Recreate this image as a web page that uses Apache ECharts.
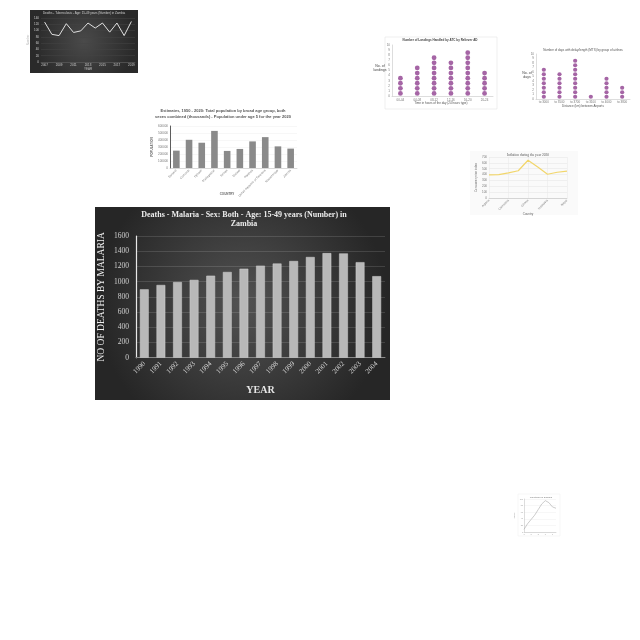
<!DOCTYPE html>
<html><head><meta charset="utf-8">
<script src="https://cdn.jsdelivr.net/npm/echarts@6/dist/echarts.min.js"></script>
<style>html,body{margin:0;padding:0;background:#fff}#c{width:640px;height:640px}</style>
</head><body><div id="c"></div>
<script>
// ---- main chart data ----
const years = ['1990','1991','1992','1993','1994','1995','1996','1997','1998','1999','2000','2001','2002','2003','2004'];
const deaths = [899, 956, 995, 1023, 1078, 1127, 1170, 1210, 1238, 1271, 1324, 1375, 1371, 1256, 1072];

// ---- thumbnail: dark line chart ----
const tlYears = ['2007','2008','2009','2010','2011','2012','2013','2014','2015','2016','2017','2018','2019'];
const tlVals = [127, 88, 84, 122, 94, 99, 124, 108, 124, 95, 124, 84, 129];

// ---- thumbnail: population bars ----
const popCountries = ['Burundi','Comoros','Djibouti','Madagascar','Eritrea','Malawi','Rwanda','United Republic of Tanzania','Mozambique','Zambia'];
const popVals = [248000, 403000, 361000, 530000, 244000, 272000, 380000, 441000, 309000, 277000];

// ---- thumbnail: landings dot plot ----
const landSlots = ['00-04','04-08','08-12','12-16','16-20','20-24'];
const landCounts = [4, 6, 8, 7, 9, 5];

// ---- thumbnail: delays dot plot ----
const delayGroups = ['to 3000','to 3500','to 3700','to 3100','to 4000','to 3800'];
const delayCounts = [7, 6, 9, 1, 5, 3];

// ---- thumbnail: inflation line ----
const inflCountries = ['Algeria','Bangladesh','Cambodia','Ethiopia','Ghana','India','Indonesia','Kenya','Nepal'];
const inflVals = [395, 400, 430, 465, 645, 530, 405, 440, 460];

// ---- thumbnail: tiny line ----
const tinyX = ['1','2','3','4','5','6','7','8','9','10'];
const tinyVals = [8, 25, 38, 51, 68, 85, 95, 89, 76, 72];

function dots(counts){const d=[];counts.forEach((n,i)=>{for(let k=0;k<n;k++)d.push([i,k+0.5]);});return d;}
const plain = v => String(v);

const serif = '"Liberation Serif","DejaVu Serif",serif';
const sans = '"Liberation Sans","DejaVu Sans",sans-serif';
const chart = echarts.init(document.getElementById('c'));

function tinyAxisX(grid, data, extra){
  return Object.assign({type:'category', gridIndex:grid, data:data,
    axisLine:{lineStyle:{color:'#bbb',width:0.5}}, axisTick:{show:false},
    axisLabel:{fontSize:3, color:'#777', margin:2, fontFamily:sans}}, extra||{});
}
function tinyAxisY(grid, extra){
  return Object.assign({type:'value', gridIndex:grid,
    axisLine:{show:true,lineStyle:{color:'#bbb',width:0.5}}, axisTick:{show:false},
    splitLine:{lineStyle:{color:'#eee',width:0.5}},
    axisLabel:{fontSize:3, color:'#777', margin:2, fontFamily:sans, formatter:plain}}, extra||{});
}

const option = {
  animation:false,
  backgroundColor:'#ffffff',
  graphic:[
    {type:'rect', z:-10, shape:{x:95,y:207,width:295,height:193},
     style:{fill:{type:'radial',x:0.5,y:0.5,r:0.75,colorStops:[{offset:0,color:'#525252'},{offset:1,color:'#262626'}]}}},
    {type:'text', z:100, style:{text:'Deaths - Malaria - Sex: Both - Age: 15-49 years (Number) in\nZambia', x:244, y:210,
      align:'center', verticalAlign:'top', fill:'#ececec', font:'bold 8px '+serif, lineHeight:9.5}},
    // dark line thumbnail
    {type:'rect', z:-10, shape:{x:30,y:10,width:108,height:63},
     style:{fill:{type:'radial',x:0.5,y:0.5,r:0.8,colorStops:[{offset:0,color:'#4a4a4a'},{offset:1,color:'#2a2a2a'}]}}},
    {type:'text', z:100, style:{text:'Deaths - Tuberculosis - Age: 15-49 years (Number) in Zambia', x:84, y:12,
      align:'center', verticalAlign:'top', fill:'#cfcfcf', font:'3px '+sans}},
    {type:'text', z:100, style:{text:'YEAR', x:88, y:69, align:'center', verticalAlign:'middle', fill:'#bbb', font:'3px '+sans}},
    // population thumbnail
    {type:'text', z:100, style:{text:'Estimates, 1950 - 2020: Total population by broad age group, both\nsexes combined (thousands) - Population under age 5 for the year 2020', x:223, y:108,
      align:'center', verticalAlign:'top', fill:'#555', font:'bold 4px '+sans, lineHeight:6}},
    {type:'text', z:100, style:{text:'COUNTRY', x:227, y:194, align:'center', verticalAlign:'middle', fill:'#666', font:'bold 3px '+sans}},
    // landings thumbnail
    {type:'rect', z:-10, shape:{x:385,y:37,width:112,height:72}, style:{fill:'#fff', stroke:'#e4e4e4', lineWidth:0.6}},
    {type:'text', z:100, style:{text:'Number of Landings Handled by ATC by Reliever AD', x:440, y:40,
      align:'center', verticalAlign:'middle', fill:'#444', font:'bold 3px '+sans}},
    {type:'text', z:100, style:{text:'No. of\nlandings', x:380, y:68, align:'center', verticalAlign:'middle', fill:'#444', font:'3.5px '+sans, lineHeight:4}},
    {type:'text', z:100, style:{text:'Time in hours of the day (24 hours type)', x:441, y:103, align:'center', verticalAlign:'middle', fill:'#555', font:'3px '+sans}},
    // delays thumbnail
    {type:'text', z:100, style:{text:'Number of days with delay/length (MTS) by group of airlines', x:583, y:50,
      align:'center', verticalAlign:'middle', fill:'#555', font:'3px '+sans}},
    {type:'text', z:100, style:{text:'No. of\ndays', x:527, y:75, align:'center', verticalAlign:'middle', fill:'#444', font:'3.5px '+sans, lineHeight:4}},
    {type:'text', z:100, style:{text:'Distance (km) between Airports', x:583, y:106, align:'center', verticalAlign:'middle', fill:'#555', font:'3px '+sans}},
    // inflation thumbnail
    {type:'rect', z:-10, shape:{x:470,y:151,width:108,height:64}, style:{fill:'#fafafa'}},
    {type:'text', z:100, style:{text:'Inflation during the year 2020', x:528, y:155,
      align:'center', verticalAlign:'middle', fill:'#555', font:'3.5px '+serif}},
    {type:'text', z:100, style:{text:'Country', x:528, y:214, align:'center', verticalAlign:'middle', fill:'#666', font:'3px '+sans}},
    // tiny thumbnail
    {type:'rect', z:-10, shape:{x:518,y:494,width:42,height:42}, style:{fill:'#fff', stroke:'#eee', lineWidth:0.5}},
    {type:'text', z:100, style:{text:'Infections in Zambia', x:541, y:497, align:'center', verticalAlign:'middle', fill:'#777', font:'2.5px '+sans}}
  ],
  grid:[
    {left:136, top:236, width:249, height:121.7},
    {left:41, top:18, width:94, height:44},
    {left:170, top:126, width:127, height:42},
    {left:392, top:45, width:101, height:51},
    {left:536, top:54, width:94, height:45},
    {left:489, top:157, width:78, height:41},
    {left:524, top:499, width:32, height:33}
  ],
  xAxis:[
    {type:'category', gridIndex:0, data:years,
     axisLine:{lineStyle:{color:'#8a8a8a',width:1}}, axisTick:{show:false},
     axisLabel:{rotate:45, fontSize:7, color:'#d4d4d4', fontFamily:serif, margin:5},
     name:'YEAR', nameLocation:'middle', nameGap:28,
     nameTextStyle:{fontFamily:serif, fontWeight:'bold', fontSize:10, color:'#e6e6e6'}},
    tinyAxisX(1, tlYears, {axisLine:{lineStyle:{color:'#666',width:0.5}}, axisLabel:{fontSize:3,color:'#ccc',margin:2}}),
    tinyAxisX(2, popCountries, {axisLabel:{fontSize:3,color:'#777',margin:2,rotate:45}}),
    tinyAxisX(3, landSlots, {axisLabel:{fontSize:3,color:'#777',margin:3}}),
    tinyAxisX(4, delayGroups, {axisLabel:{fontSize:3,color:'#777',margin:2}}),
    tinyAxisX(5, inflCountries, {boundaryGap:false, axisLabel:{fontSize:3,color:'#777',margin:2,rotate:45}, splitLine:{show:true,lineStyle:{color:'#e8e8e8',width:0.5}}}),
    tinyAxisX(6, tinyX, {boundaryGap:false, axisLabel:{fontSize:2,color:'#999',margin:1}})
  ],
  yAxis:[
    {type:'value', gridIndex:0, min:0, max:1600, interval:200,
     axisLine:{show:true, lineStyle:{color:'#e8e8e8', width:1.2}}, axisTick:{show:false},
     splitLine:{lineStyle:{color:'rgba(255,255,255,0.13)', width:1}},
     axisLabel:{fontSize:7.5, color:'#d0d0d0', fontFamily:serif, margin:7, formatter:plain},
     name:'NO OF DEATHS BY MALARIA', nameLocation:'middle', nameGap:30, nameRotate:90,
     nameTextStyle:{fontFamily:serif, fontSize:9.5, color:'#f0f0f0'}},
    tinyAxisY(1, {min:0, max:140, interval:20, axisLine:{show:false}, splitLine:{lineStyle:{color:'#444',width:0.5}}, axisLabel:{fontSize:3,color:'#ccc',margin:2,formatter:plain},
      name:'Number', nameLocation:'middle', nameGap:7, nameRotate:90, nameTextStyle:{fontSize:3,color:'#bbb'}}),
    tinyAxisY(2, {min:0, max:600000, interval:100000, axisLine:{show:true,lineStyle:{color:'#333',width:0.8}},
      name:'POPULATION', nameLocation:'middle', nameGap:14, nameRotate:90, nameTextStyle:{fontSize:3,color:'#666',fontWeight:'bold'}}),
    tinyAxisY(3, {min:0, max:10, interval:1, splitLine:{show:false}}),
    tinyAxisY(4, {min:0, max:10, interval:1, splitLine:{show:false}}),
    tinyAxisY(5, {min:0, max:700, interval:100, axisLine:{show:false}, splitLine:{lineStyle:{color:'#e4e4e4',width:0.5}},
      name:'Consumer price index', nameLocation:'middle', nameGap:11, nameRotate:90, nameTextStyle:{fontSize:3,color:'#777'}}),
    tinyAxisY(6, {min:0, max:100, interval:20, axisLabel:{fontSize:2,color:'#999',margin:1,formatter:plain},
      name:'Cases', nameLocation:'middle', nameGap:5, nameRotate:90, nameTextStyle:{fontSize:2,color:'#999'}})
  ],
  series:[
    {type:'bar', xAxisIndex:0, yAxisIndex:0, data:deaths, barWidth:'53%',
     itemStyle:{color:'#b8b8b8', borderColor:'#d2d2d2', borderWidth:0.5}},
    {type:'line', xAxisIndex:1, yAxisIndex:1, data:tlVals, symbol:'none',
     lineStyle:{color:'#e0e0e0', width:1}},
    {type:'bar', xAxisIndex:2, yAxisIndex:2, data:popVals, barWidth:'52%',
     itemStyle:{color:'#8a8a8a'}},
    {type:'scatter', xAxisIndex:3, yAxisIndex:3, data:dots(landCounts), symbolSize:4.8,
     itemStyle:{color:'#8e3f8f'}},
    {type:'scatter', xAxisIndex:4, yAxisIndex:4, data:dots(delayCounts), symbolSize:4.2,
     itemStyle:{color:'#8e3f8f'}},
    {type:'line', xAxisIndex:5, yAxisIndex:5, data:inflVals, symbol:'none',
     lineStyle:{color:'#f2d66b', width:1.2}},
    {type:'line', xAxisIndex:6, yAxisIndex:6, data:tinyVals, symbol:'none',
     lineStyle:{color:'#aaaaaa', width:0.6}}
  ]
};
chart.setOption(option);
</script></body></html>
